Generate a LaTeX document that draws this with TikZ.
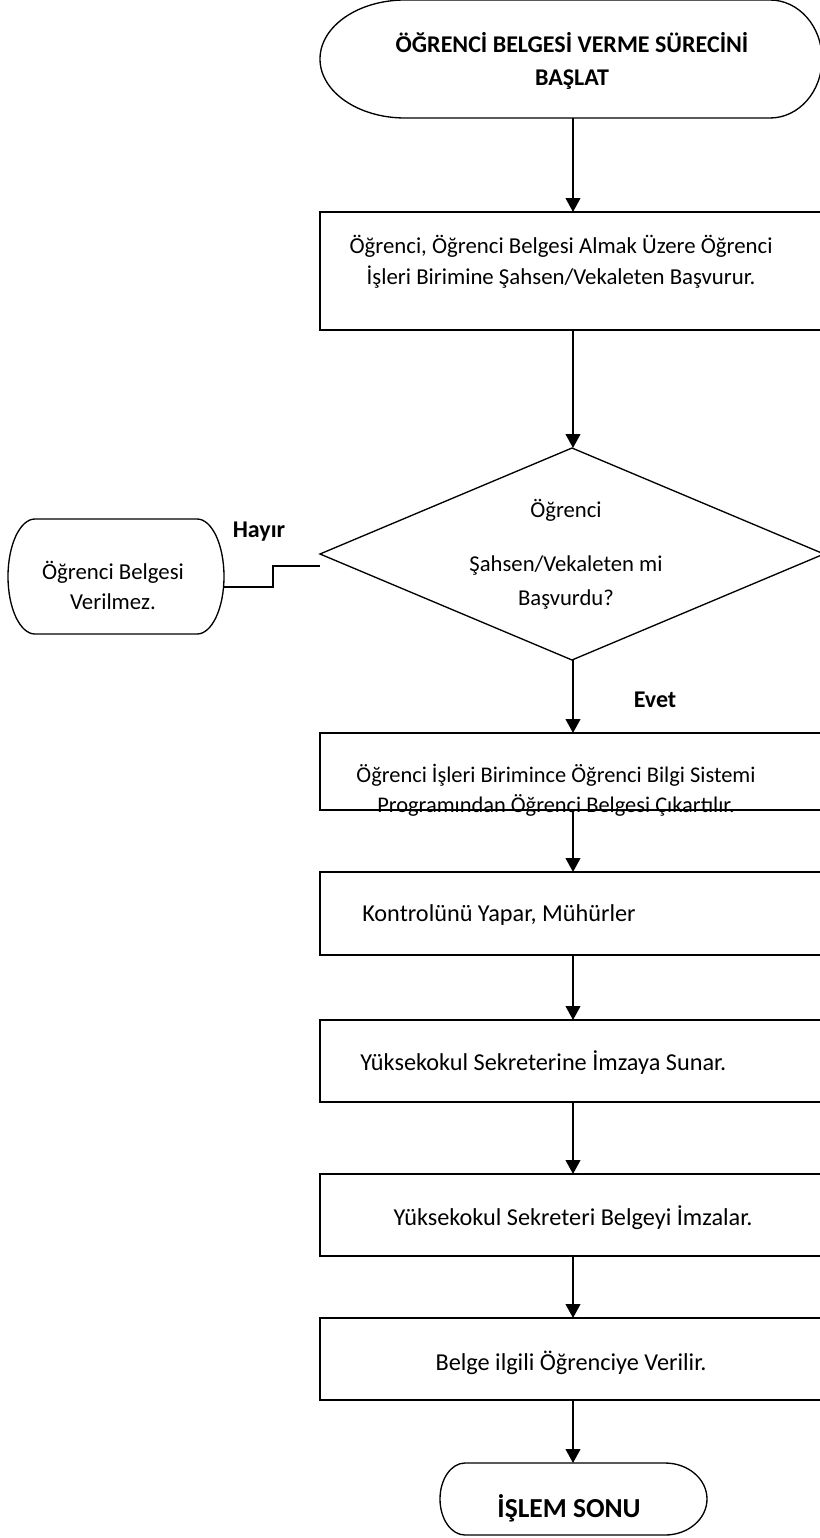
\documentclass[tikz,border=0pt]{standalone}
\usepackage{fontspec}
\setmainfont{Carlito}
\usetikzlibrary{arrows.meta,shapes.geometric}

\begin{document}
\begin{tikzpicture}[x=0.75pt,y=-0.75pt,
  outline/.style={draw=black, line width=1pt},
  frame/.style={inner sep=0pt, outer sep=0pt},
  proc/.style={outline, rectangle, frame, minimum width=379.5pt},
  txt/.style={font=\fontsize{18.2}{23}\selectfont, align=center, inner sep=0pt},
  btxt/.style={font=\fontsize{18}{24.75}\selectfont\bfseries, align=center, inner sep=0pt},
  flow/.style={line width=1.5pt, -{Triangle[length=10.5pt,width=11pt]}},
  jump/.style={line width=2.2pt},
]
\useasboundingbox (0,0) rectangle (820,1538);
\clip (0,0) rectangle (820,1538);

% start terminal
\node[frame, minimum width=376.5pt, minimum height=88.5pt] (start) at (573,59) {};
\draw[outline] (405,0) -- (770,0)
  arc[start angle=-90, end angle=90, x radius=52, y radius=59] -- (405,118)
  arc[start angle=90, end angle=270, x radius=85, y radius=59] -- cycle;
\node[btxt] (starttxt) at (572,61) {ÖĞRENCİ BELGESİ VERME SÜRECİNİ\\BAŞLAT};

% process boxes
\node[proc, minimum height=88.5pt] (b1) at (573,271) {};
\node[txt, font=\fontsize{17.1}{23}\selectfont] (b1txt) at (561,262) {Öğrenci, Öğrenci Belgesi Almak Üzere Öğrenci\\İşleri Birimine Şahsen/Vekaleten Başvurur.};

% decision
\node[draw=black, line width=1pt, diamond, aspect=2.36, frame,
      minimum width=378pt, minimum height=159pt] (dec) at (572,554) {};
\node[txt, font=\fontsize{17}{25.5}\selectfont] (dectxt) at (566,554) {Öğrenci\\[15pt]Şahsen/Vekaleten mi\\Başvurdu?};

% rejection terminal
\node[frame, minimum width=162pt, minimum height=86.25pt] (no) at (116,576.5) {};
\draw[outline] (35,519) -- (197,519)
  arc[start angle=-90, end angle=90, x radius=27, y radius=57.5] -- (35,634)
  arc[start angle=90, end angle=270, x radius=27, y radius=57.5] -- cycle;
\node[txt, font=\fontsize{17.1}{22.5}\selectfont] (notxt) at (113,585) {Öğrenci Belgesi\\Verilmez.};

\node[btxt] (hayir) at (259,532) {Hayır};
\coordinate (hstart) at (320,566);
\coordinate (hmid) at (273,587);
\draw[jump] (hstart) -| (hmid) -- (hmid -| no.east);

\node[btxt] (evet) at (655,700) {Evet};

\node[proc, minimum height=57.75pt] (b2) at (573,771.5) {};
\node[txt, font=\fontsize{16.8}{22.5}\selectfont] (b2txt) at (556,790) {Öğrenci İşleri Birimince Öğrenci Bilgi Sistemi\\Programından Öğrenci Belgesi Çıkartılır.};

\node[proc, minimum height=62.25pt] (b3) at (573,913.5) {};
\node[txt, anchor=west] (b3txt) at (362,915) {Kontrolünü Yapar, Mühürler};

\node[proc, minimum height=61.5pt] (b4) at (573,1061) {};
\node[txt, anchor=west] (b4txt) at (360,1063) {Yüksekokul Sekreterine İmzaya Sunar.};

\node[proc, minimum height=61.5pt] (b5) at (573,1215) {};
\node[txt] (b5txt) at (573,1218) {Yüksekokul Sekreteri Belgeyi İmzalar.};

\node[proc, minimum height=61.5pt] (b6) at (573,1359) {};
\node[txt] (b6txt) at (571,1363) {Belge ilgili Öğrenciye Verilir.};

% end terminal
\node[frame, minimum width=200.25pt, minimum height=54pt] (end) at (573.5,1499) {};
\draw[outline] (465,1463) -- (665,1463)
  arc[start angle=-90, end angle=90, x radius=42, y radius=36] -- (465,1535)
  arc[start angle=90, end angle=270, x radius=25, y radius=36] -- cycle;
\node[font=\fontsize{20.6}{24}\selectfont\bfseries, inner sep=0pt] (endtxt) at (569,1508) {İŞLEM SONU};

% flow arrows, all on the same vertical line
\draw[flow] (start.south) -- (b1.north);
\draw[flow] (b1.south) -- (b1.south |- dec.north);
\draw[flow] (b2.north |- dec.south) -- (b2.north);
\draw[flow] (b2.south) -- (b3.north);
\draw[flow] (b3.south) -- (b4.north);
\draw[flow] (b4.south) -- (b5.north);
\draw[flow] (b5.south) -- (b6.north);
\draw[flow] (b6.south) -- (b6.south |- end.north);
\end{tikzpicture}
\end{document}
